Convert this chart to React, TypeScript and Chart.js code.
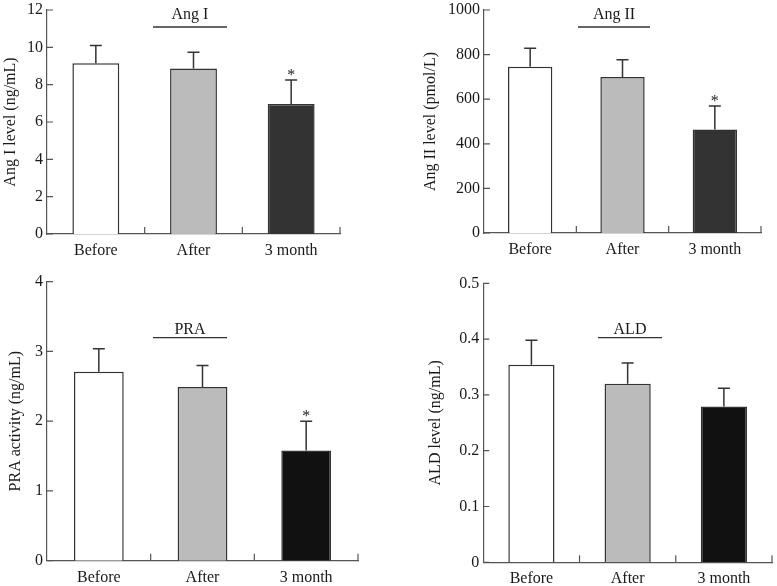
import React, { useEffect, useRef } from 'react';
import { Chart, registerables } from 'chart.js';

Chart.register(...registerables);

// ---------- data ----------
const CATEGORIES = ['Before', 'After', '3 month'];

const ANG1_MEAN = [9.15, 8.87, 6.96];
const ANG1_SD = [0.95, 0.86, 1.29];
const ANG1_SIG = [false, false, true];
const ANG1_AXIS = [0, 12, 2];

const ANG2_MEAN = [745, 700, 464];
const ANG2_SD = [83, 77, 105];
const ANG2_SIG = [false, false, true];
const ANG2_AXIS = [0, 1000, 200];

const PRA_MEAN = [2.71, 2.49, 1.58];
const PRA_SD = [0.33, 0.31, 0.42];
const PRA_SIG = [false, false, true];
const PRA_AXIS = [0, 4, 1];

const ALD_MEAN = [0.354, 0.32, 0.279];
const ALD_SD = [0.044, 0.037, 0.033];
const ALD_SIG = [false, false, false];
const ALD_AXIS = [0, 0.5, 0.1];

const TOP_COLORS = ['#ffffff', '#bbbbbb', '#333333'];
const BOTTOM_COLORS = ['#ffffff', '#bbbbbb', '#111111'];

// ---------- styling ----------
const FONT = "'Liberation Serif', 'Times New Roman', serif";
const AXIS_COLOR = '#555555';
const BAR_LINE = '#333333';
const TEXT_COLOR = '#1a1a1a';

type PanelCfg = {
  key: string;
  title: string;
  yTitle: string;
  means: number[];
  sd: number[];
  sig: boolean[];
  axis: number[];
  colors: string[];
  // layout (local canvas px)
  box: { left: number; top: number; w: number; h: number };
  area: { left: number; right: number; top: number; bottom: number };
  yTitleX: number;
  titleLine: { x1: number; x2: number; y: number; textY: number };
};

const PANELS: PanelCfg[] = [
  {
    key: 'ang1', title: 'Ang I', yTitle: 'Ang I level (ng/mL)',
    means: ANG1_MEAN, sd: ANG1_SD, sig: ANG1_SIG, axis: ANG1_AXIS, colors: TOP_COLORS,
    box: { left: 0, top: 0, w: 390, h: 270 },
    area: { left: 47, right: 340, top: 10, bottom: 234 },
    yTitleX: 11,
    titleLine: { x1: 153, x2: 227, y: 27, textY: 15 },
  },
  {
    key: 'ang2', title: 'Ang II', yTitle: 'Ang II level (pmol/L)',
    means: ANG2_MEAN, sd: ANG2_SD, sig: ANG2_SIG, axis: ANG2_AXIS, colors: TOP_COLORS,
    box: { left: 390, top: 0, w: 387, h: 270 },
    area: { left: 94, right: 371, top: 10, bottom: 233 },
    yTitleX: 40.5,
    titleLine: { x1: 188, x2: 260, y: 27, textY: 15 },
  },
  {
    key: 'pra', title: 'PRA', yTitle: 'PRA activity (ng/mL)',
    means: PRA_MEAN, sd: PRA_SD, sig: PRA_SIG, axis: PRA_AXIS, colors: BOTTOM_COLORS,
    box: { left: 0, top: 270, w: 390, h: 316 },
    area: { left: 47, right: 358, top: 11.7, bottom: 290.7 },
    yTitleX: 15.5,
    titleLine: { x1: 153, x2: 227, y: 67.7, textY: 60 },
  },
  {
    key: 'ald', title: 'ALD', yTitle: 'ALD level (ng/mL)',
    means: ALD_MEAN, sd: ALD_SD, sig: ALD_SIG, axis: ALD_AXIS, colors: BOTTOM_COLORS,
    box: { left: 390, top: 270, w: 387, h: 316 },
    area: { left: 93.3, right: 382, top: 13.3, bottom: 292.3 },
    yTitleX: 45.5,
    titleLine: { x1: 208, x2: 272, y: 67.7, textY: 60 },
  },
];

const decorPlugin = {
  id: 'decor',
  afterDatasetsDraw(chart: any, _args: any, opts: any) {
    const cfg: PanelCfg = opts.cfg;
    if (!cfg) return;
    const { ctx } = chart;
    const xs = chart.scales.x;
    const ys = chart.scales.y;
    const meta = chart.getDatasetMeta(0);
    ctx.save();
    // error bars + significance marks
    ctx.strokeStyle = BAR_LINE;
    ctx.lineWidth = 1.5;
    ctx.fillStyle = TEXT_COLOR;
    ctx.font = `16px ${FONT}`;
    ctx.textAlign = 'center';
    ctx.textBaseline = 'alphabetic';
    meta.data.forEach((bar: any, i: number) => {
      const base = ys.getPixelForValue(cfg.means[i]);
      const top = ys.getPixelForValue(cfg.means[i] + cfg.sd[i]);
      ctx.beginPath();
      ctx.moveTo(bar.x, base);
      ctx.lineTo(bar.x, top);
      ctx.moveTo(bar.x - 6, top);
      ctx.lineTo(bar.x + 6, top);
      ctx.stroke();
      if (cfg.sig[i]) ctx.fillText('*', bar.x, top);
    });
    // inward tick marks
    ctx.strokeStyle = AXIS_COLOR;
    ctx.lineWidth = 1.2;
    ctx.beginPath();
    ys.ticks.forEach((_t: any, i: number) => {
      const py = ys.getPixelForTick(i);
      ctx.moveTo(ys.right, py);
      ctx.lineTo(ys.right + 6, py);
    });
    for (let k = 1; k <= CATEGORIES.length; k++) {
      const px = xs.getPixelForValue(k - 0.5);
      ctx.moveTo(px, xs.top);
      ctx.lineTo(px, xs.top - 7);
    }
    ctx.stroke();
    // panel title with underline
    const tl = cfg.titleLine;
    ctx.strokeStyle = BAR_LINE;
    ctx.lineWidth = 1.3;
    ctx.beginPath();
    ctx.moveTo(tl.x1, tl.y);
    ctx.lineTo(tl.x2, tl.y);
    ctx.stroke();
    ctx.textBaseline = 'middle';
    ctx.fillText(cfg.title, (tl.x1 + tl.x2) / 2, tl.textY);
    ctx.restore();
  },
};

function Panel({ cfg }: { cfg: PanelCfg }) {
  const ref = useRef<HTMLCanvasElement | null>(null);
  useEffect(() => {
    if (!ref.current) return;
    const lineH = 16 * 1.2;
    const padLeft = cfg.yTitleX - lineH / 2;
    const chart = new Chart(ref.current, {
      type: 'bar',
      data: {
        labels: CATEGORIES,
        datasets: [
          {
            data: cfg.means,
            backgroundColor: cfg.colors,
            borderColor: BAR_LINE,
            borderWidth: 1.5,
            barPercentage: 0.48,
            categoryPercentage: 1,
          },
        ],
      },
      options: {
        responsive: false,
        animation: false,
        events: [],
        layout: {
          padding: {
            left: padLeft,
            top: cfg.area.top,
            right: cfg.box.w - cfg.area.right,
            bottom: 0,
          },
        },
        plugins: {
          legend: { display: false },
          tooltip: { enabled: false },
          title: { display: false },
          decor: { cfg },
        } as any,
        scales: {
          x: {
            type: 'category',
            offset: true,
            grid: { display: false, drawTicks: false },
            border: { display: true, color: AXIS_COLOR, width: 1.2 },
            ticks: { color: TEXT_COLOR, font: { family: FONT, size: 16 }, padding: 7, maxRotation: 0 },
            afterFit: (s: any) => {
              s.height = cfg.box.h - cfg.area.bottom;
              s.paddingLeft = 0;
              s.paddingRight = 0;
            },
          },
          y: {
            min: cfg.axis[0],
            max: cfg.axis[1],
            ticks: {
              stepSize: cfg.axis[2],
              color: TEXT_COLOR,
              font: { family: FONT, size: 16 },
              padding: 4,
              callback: (v: any) => String(parseFloat(Number(v).toFixed(3))),
            },
            grid: { display: false, drawTicks: false },
            border: { display: true, color: AXIS_COLOR, width: 1.2 },
            title: {
              display: true,
              text: cfg.yTitle,
              color: TEXT_COLOR,
              font: { family: FONT, size: 16 },
              padding: 0,
            },
            afterFit: (s: any) => {
              s.width = cfg.area.left - padLeft;
              s.paddingTop = 0;
              s.paddingBottom = 0;
            },
          },
        },
      },
      plugins: [decorPlugin],
    } as any);
    return () => chart.destroy();
  }, [cfg]);
  return (
    <canvas
      ref={ref}
      width={cfg.box.w}
      height={cfg.box.h}
      style={{
        position: 'absolute',
        left: cfg.box.left,
        top: cfg.box.top,
        width: cfg.box.w,
        height: cfg.box.h,
      }}
    />
  );
}

export default function App() {
  return (
    <div
      style={{
        position: 'absolute',
        left: 0,
        top: 0,
        width: 777,
        height: 586,
        background: '#ffffff',
        overflow: 'hidden',
      }}
    >
      {PANELS.map((p) => (
        <Panel key={p.key} cfg={p} />
      ))}
    </div>
  );
}
